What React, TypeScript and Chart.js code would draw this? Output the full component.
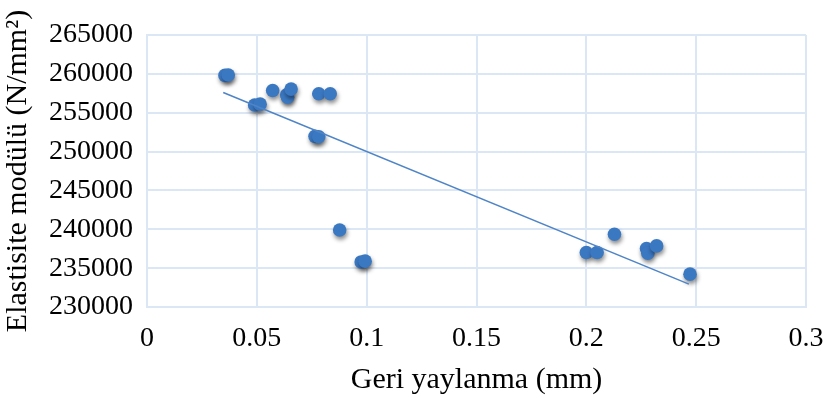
import React, { useEffect, useRef } from "react";
import { Chart, registerables } from "chart.js";

Chart.register(...registerables);

// Springback (mm) vs. modulus of elasticity (N/mm²)
const springback = [
  0.0355, 0.037, 0.049, 0.0515, 0.0572, 0.0636, 0.064, 0.0656, 0.0782, 0.0834,
  0.0765, 0.0782, 0.0877, 0.0975, 0.0993, 0.2, 0.2049, 0.2128, 0.2274, 0.228,
  0.232, 0.2472,
];
const modulus = [
  259800, 259850, 256000, 256100, 257860, 257300, 257000, 258040, 257440,
  257440, 251960, 251900, 239910, 235800, 235900, 237010, 237010, 239360,
  237530, 236920, 237860, 234230,
];

// Linear trendline end points
const trendX = [0.0347, 0.2467];
const trendY = [257600, 232950];

const xTicks = [0, 0.05, 0.1, 0.15, 0.2, 0.25, 0.3];
const yTicks = [230000, 235000, 240000, 245000, 250000, 255000, 260000, 265000];

const serif = "'Liberation Serif', 'Times New Roman', serif";
const gridColor = "#dce7f5";
const pointColor = "#3b78c2";
const lineColor = "#4f84c6";

const shadowPlugin = {
  id: "pointShadow",
  beforeDatasetDraw(chart: any, args: any) {
    if (args.index !== 1) return;
    const ctx = chart.ctx;
    ctx.save();
    ctx.shadowColor = "rgba(0,0,0,0.45)";
    ctx.shadowBlur = 4;
    ctx.shadowOffsetX = 1;
    ctx.shadowOffsetY = 3;
  },
  afterDatasetDraw(chart: any, args: any) {
    if (args.index !== 1) return;
    chart.ctx.restore();
  },
};

export default function App() {
  const canvasRef = useRef<HTMLCanvasElement | null>(null);

  useEffect(() => {
    document.body.style.margin = "0";
    const canvas = canvasRef.current;
    if (!canvas) return;

    const chart = new Chart(canvas, {
      type: "scatter",
      data: {
        datasets: [
          {
            type: "line",
            data: trendX.map((x, i) => ({ x, y: trendY[i] })),
            borderColor: lineColor,
            borderWidth: 1.5,
            pointRadius: 0,
            fill: false,
          },
          {
            data: springback.map((x, i) => ({ x, y: modulus[i] })),
            backgroundColor: pointColor,
            borderColor: pointColor,
            borderWidth: 0,
            pointRadius: 6.8,
          },
        ],
      },
      options: {
        responsive: false,
        animation: false,
        layout: { padding: { top: 35, right: 18, left: 0, bottom: 0 } },
        plugins: {
          legend: { display: false },
          tooltip: { enabled: false },
        },
        scales: {
          x: {
            type: "linear",
            min: 0,
            max: 0.3,
            afterBuildTicks: (scale: any) => {
              scale.ticks = xTicks.map((v) => ({ value: v }));
            },
            afterFit: (scale: any) => {
              scale.height = 91;
              scale.paddingLeft = 0;
              scale.paddingRight = 0;
            },
            ticks: {
              color: "#000",
              font: { family: serif, size: 28 },
              padding: 15,
              maxRotation: 0,
              callback: (v: any) => String(v),
            },
            grid: { color: gridColor, lineWidth: 2, drawTicks: false },
            border: { color: gridColor, width: 2 },
            title: {
              display: true,
              text: "Geri yaylanma (mm)",
              color: "#000",
              font: { family: serif, size: 30 },
              padding: { top: 0, bottom: 0 },
            },
          },
          y: {
            type: "linear",
            min: 230000,
            max: 265000,
            afterBuildTicks: (scale: any) => {
              scale.ticks = yTicks.map((v) => ({ value: v }));
            },
            afterFit: (scale: any) => {
              scale.width = 147;
              scale.paddingTop = 0;
              scale.paddingBottom = 0;
            },
            ticks: {
              color: "#000",
              font: { family: serif, size: 28 },
              padding: 14,
              callback: (v: any) => String(v),
            },
            grid: { color: gridColor, lineWidth: 2, drawTicks: false },
            border: { color: gridColor, width: 2 },
            title: {
              display: true,
              text: "Elastisite modülü (N/mm²)",
              color: "#000",
              font: { family: serif, size: 30 },
              padding: { top: 0, bottom: 0 },
            },
          },
        },
      },
      plugins: [shadowPlugin],
    });

    return () => chart.destroy();
  }, []);

  return (
    <div style={{ position: "relative", width: 824, height: 398, background: "#fff" }}>
      <canvas ref={canvasRef} width={824} height={398} />
    </div>
  );
}
